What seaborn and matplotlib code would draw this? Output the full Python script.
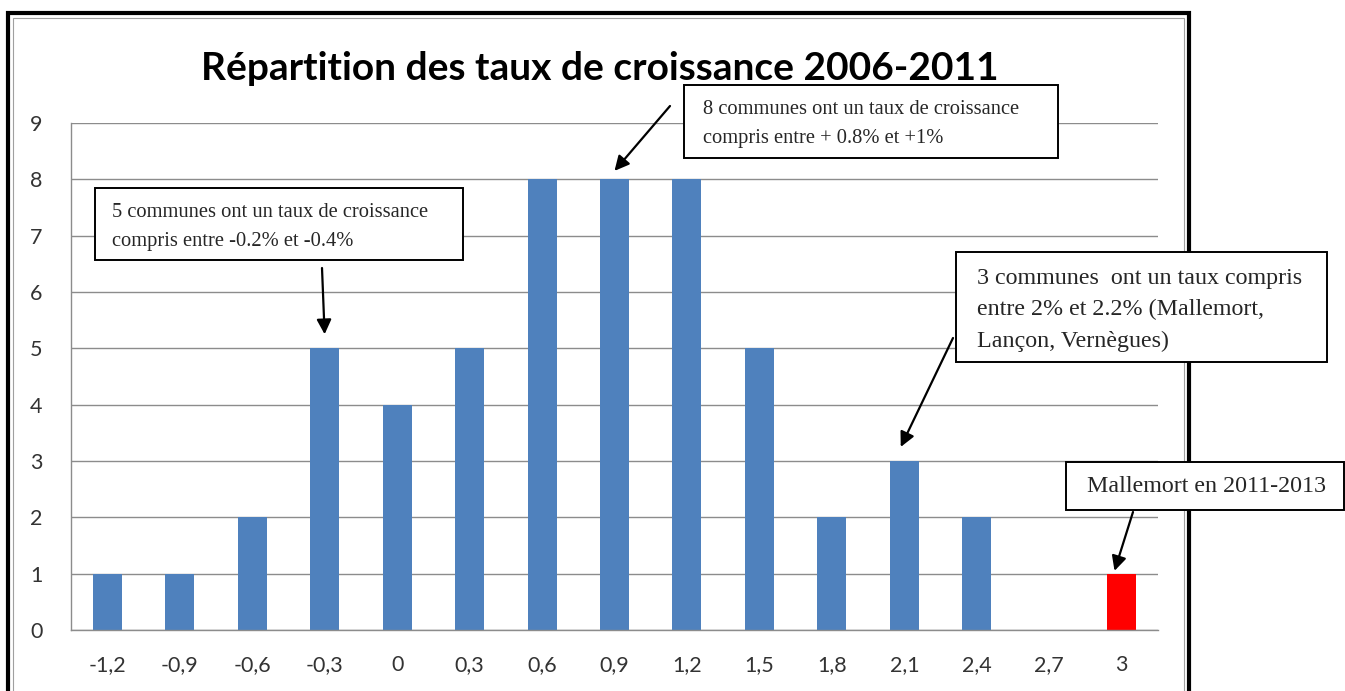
import pandas as pd
import matplotlib
matplotlib.use("Agg")
import matplotlib.pyplot as plt
import seaborn as sns
from matplotlib.patches import Rectangle

# données
taux = ["-1,2", "-0,9", "-0,6", "-0,3", "0", "0,3", "0,6", "0,9",
        "1,2", "1,5", "1,8", "2,1", "2,4", "2,7", "3"]
nb_communes = [1, 1, 2, 5, 4, 5, 8, 8, 8, 5, 2, 3, 2, 0, 1]
couleurs = ["#4F81BD"] * 14 + ["#FF0000"]

titre = "Répartition des taux de croissance 2006-2011"
notes = [
    "5 communes ont un taux de croissance\ncompris entre -0.2% et -0.4%",
    "8 communes ont un taux de croissance\ncompris entre + 0.8% et +1%",
    "3 communes  ont un taux compris\nentre 2% et 2.2% (Mallemort,\nLançon, Vernègues)",
    "Mallemort en 2011-2013",
]

W, H = 1345, 691


def px(x, y):
    # pixels -> fraction de la figure
    return x / W, 1 - y / H


df = pd.DataFrame({"taux": taux, "n": nb_communes})

sns.set_style("white")
plt.rcParams['font.family'] = ['Lato', 'DejaVu Sans']

fig = plt.figure(figsize=(W / 100, H / 100), dpi=100)
l, b = px(71, 630)
r, t = px(1158, 123)
ax = fig.add_axes([l, b, r - l, t - b])

sns.barplot(data=df, x="taux", y="n", hue="taux", palette=couleurs,
            width=0.4, legend=False, ax=ax, saturation=1, linewidth=0)

ax.set_ylim(0, 9)
ax.set_xlim(-0.5, len(taux) - 0.5)
ax.set_yticks(range(0, 10))
ax.yaxis.grid(True, color="#8c8c8c", lw=1)
ax.set_axisbelow(True)
ax.set_xlabel("")
ax.set_ylabel("")
for s in ["top", "right"]:
    ax.spines[s].set_visible(False)
for s in ["left", "bottom"]:
    ax.spines[s].set_color("#8c8c8c")
    ax.spines[s].set_linewidth(1)

ax.set_xticks(range(len(taux)))
ax.set_xticklabels(taux)
ax.set_xticks([i - 0.5 for i in range(len(taux) + 1)], minor=True)
ax.tick_params(axis="x", which="major", length=0, pad=18, labelsize=15.5, labelcolor="#333333")
ax.tick_params(axis="x", which="minor", length=5, color="#8c8c8c", width=1)
ax.tick_params(axis="y", length=6.5, color="#8c8c8c", width=1, pad=14,
               labelsize=15.5, labelcolor="#333333")

fig.text(0.446, px(0, 68)[1], titre, ha="center", va="center",
         fontsize=28, fontweight="bold", color="black")

# cadre
x0, y0 = px(8, 705)
x1, y1 = px(1189, 13)
fig.patches.append(Rectangle((x0, y0), x1 - x0, y1 - y0, transform=fig.transFigure,
                             fill=False, ec="black", lw=3, clip_on=False))
x0, y0 = px(13, 705)
x1, y1 = px(1184, 18)
fig.patches.append(Rectangle((x0, y0), x1 - x0, y1 - y0, transform=fig.transFigure,
                             fill=False, ec="#a0a0a0", lw=0.8, clip_on=False))

# encadrés des commentaires (x gauche, y haut, x droite, y bas)
boites = [(95, 188, 463, 260), (684, 85, 1058, 158),
          (956, 252, 1327, 362), (1066, 462, 1344, 510)]
# position du texte (x gauche, y centre), taille, interligne
textes = [(112, 227, 14.8, 1.65), (703, 124, 14.8, 1.65),
          (977, 310, 17.3, 1.62), (1087, 487, 17.3, 1.5)]
for (bx0, by0, bx1, by1), (tx, ty, fs, ls), txt in zip(boites, textes, notes):
    fx0, fy0 = px(bx0, by1)
    fx1, fy1 = px(bx1, by0)
    fig.patches.append(Rectangle((fx0, fy0), fx1 - fx0, fy1 - fy0,
                                 transform=fig.transFigure, fc="white",
                                 ec="black", lw=1.4, zorder=5))
    fig.text(*px(tx, ty), txt, ha="left", va="center",
             family=["Liberation Serif", "DejaVu Serif"], fontsize=fs,
             linespacing=ls, zorder=6)

# flèches : pointe en données, départ en pixels
fleches = [((3, 5.25), (322, 268)), ((7, 8.15), (670, 106)),
           ((10.95, 3.25), (953, 338)), ((13.9, 1.05), (1133, 512))]
for xy, (tx, ty) in fleches:
    ax.annotate("", xy=xy, xycoords="data", xytext=px(tx, ty),
                textcoords="figure fraction",
                arrowprops=dict(arrowstyle="-|>", color="black", lw=1.6,
                                mutation_scale=22, shrinkA=0, shrinkB=0),
                annotation_clip=False, zorder=7)

fig.savefig("out.png", dpi=100)
